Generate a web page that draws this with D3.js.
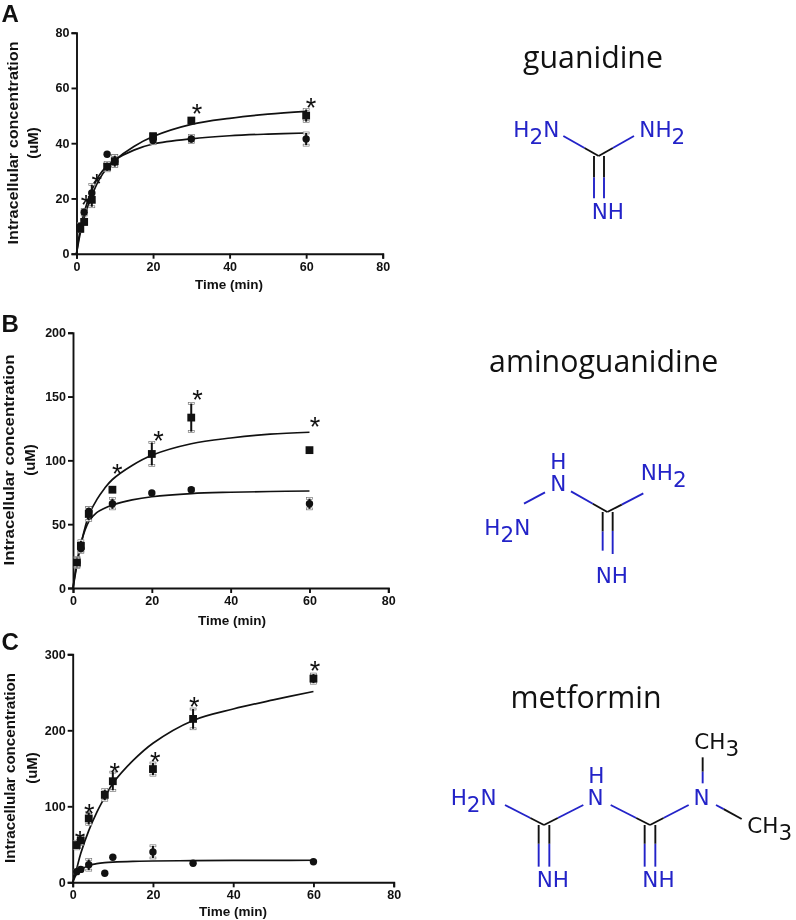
<!DOCTYPE html>
<html><head><meta charset="utf-8">
<script src="https://cdn.jsdelivr.net/npm/d3@7"></script>
<style>
html,body{margin:0;padding:0;background:#fff}
svg{display:block;filter:blur(0.35px)}
</style></head><body>
<svg id="c" width="796" height="920"></svg>
<script>
// ---- Data ----
const xTicks = [0, 20, 40, 60, 80];

const timesA = [1, 2, 4, 8, 10, 20, 30, 60];
const squaresA = [9, 11.5, 19.5, 31.5, 33.5, 42.5, 48.2, 50];
const squareErrA = [1, 1, 2.5, 1.5, 2, 1, 0.8, 2.2];
const circlesA = [10, 15, 22, 36, 33.5, 41, 41.5, 41.5];
const circleErrA = [1, 1, 3, 0, 2, 1.2, 1.3, 2.2];
const fitTimesA = [0, 1, 2, 4, 6, 8, 10, 15, 20, 30, 40, 50, 60];
const fitSquareA = [0, 7.5, 13, 21, 27, 31, 33.8, 38.8, 42.4, 46.8, 49, 50.5, 51.5];
const fitCircleA = [0, 9, 15, 23, 28.5, 31.8, 34, 37.5, 39.7, 41.6, 42.7, 43.3, 43.7];
const starsXA = [2.5, 5.3, 31.5, 61.3];
const starsYA = [19.8, 27.5, 52.7, 54.9];

const timesB = [1, 2, 4, 10, 20, 30, 60];
const squaresB = [20, 33, 58, 77, 105, 133.5, 108];
const squareErrB = [3, 4, 5, 0, 9, 11, 0];
const circlesB = [20, 31, 60, 66, 74.5, 77, 66];
const circleErrB = [4, 3, 3, 4, 0, 1, 4];
const fitTimesB = [0, 1, 2, 4, 6, 8, 10, 15, 20, 30, 40, 50, 60];
const fitSquareB = [0, 18, 34, 57, 69, 78, 85, 96, 104, 113, 117.5, 120.5, 122];
const fitCircleB = [0, 20, 35, 52, 59, 62.5, 65, 69, 71.5, 74, 75, 75.6, 76];
const starsXB = [11.2, 21.7, 31.6, 61.4];
const starsYB = [94, 120, 152, 131];

const timesC = [1, 2, 4, 8, 10, 20, 30, 60];
const squaresC = [49, 55, 84, 115, 133, 149, 215, 268];
const squareErrC = [5, 5, 8, 7, 12, 8, 13, 6];
const circlesC = [14, 17, 23, 12, 33, 40, 25, 27];
const circleErrC = [2, 2, 7, 0, 0, 8, 0, 0];
const fitTimesC = [0, 1, 2, 4, 6, 8, 10, 15, 20, 30, 40, 50, 60];
const fitSquareC = [0, 18, 38, 68, 92, 112, 130, 160, 183, 213, 228, 240, 251];
const fitCircleC = [0, 11, 16, 22, 24.5, 25.8, 26.5, 27.5, 28, 28.5, 28.8, 28.9, 29];
const starsXC = [1.8, 4.1, 10.5, 20.6, 30.3, 60.4];
const starsYC = [62, 98, 152, 166, 238, 286];

const panelLetters = ["A", "B", "C"];
const yTicksA = [0, 20, 40, 60, 80];
const yTicksB = [0, 50, 100, 150, 200];
const yTicksC = [0, 100, 200, 300];
const yLabel1 = "Intracellular concentration";
const yLabel2 = "(uM)";
const xLabel = "Time (min)";
const compoundNames = ["guanidine", "aminoguanidine", "metformin"];

// ---- Layout ----
const svg = d3.select("#c");
const SANS = "'Liberation Sans', Arial, sans-serif";
const panels = [
 {letter:panelLetters[0], ly:22, x0:76.5, x1:382.7, y0:253.7, y1:32.7, ymax:80, yt:yTicksA,
  t:timesA, s:squaresA, se:squareErrA, c:circlesA, ce:circleErrA, ft:fitTimesA, fs:fitSquareA, fc:fitCircleA, sx:starsXA, sy:starsYA,
  lab1x:17.5, lab2x:38, labY:143, labLen:203, tx:229, tBase:289},
 {letter:panelLetters[1], ly:332, x0:73, x1:388.3, y0:588, y1:332.7, ymax:200, yt:yTicksB,
  t:timesB, s:squaresB, se:squareErrB, c:circlesB, ce:circleErrB, ft:fitTimesB, fs:fitSquareB, fc:fitCircleB, sx:starsXB, sy:starsYB,
  lab1x:14, lab2x:35, labY:460, labLen:211, tx:232, tBase:625},
 {letter:panelLetters[2], ly:650, x0:72.7, x1:393.7, y0:882.3, y1:654.3, ymax:300, yt:yTicksC,
  t:timesC, s:squaresC, se:squareErrC, c:circlesC, ce:circleErrC, ft:fitTimesC, fs:fitSquareC, fc:fitCircleC, sx:starsXC, sy:starsYC,
  lab1x:15, lab2x:37, labY:768, labLen:190, tx:233, tBase:916}
];

panels.forEach(p => {
  const g = svg.append("g");
  const x = d3.scaleLinear().domain([0, 80]).range([p.x0, p.x1]);
  const y = d3.scaleLinear().domain([0, p.ymax]).range([p.y0, p.y1]);

  g.append("text").attr("x", 1.5).attr("y", p.ly).text(p.letter)
   .attr("font-family", SANS).attr("font-weight", 700).attr("font-size", 24).attr("fill", "#111");

  const ax = g.append("g").attr("transform", `translate(0,${p.y0})`)
    .call(d3.axisBottom(x).tickValues(xTicks).tickSize(5).tickPadding(3).tickFormat(d3.format("d")));
  const ay = g.append("g").attr("transform", `translate(${p.x0},0)`)
    .call(d3.axisLeft(y).tickValues(p.yt).tickSize(5).tickPadding(2).tickFormat(d3.format("d")));
  [ax, ay].forEach(a => {
    a.selectAll("path").attr("stroke", "#111").attr("stroke-width", 1.9);
    a.selectAll("line").attr("stroke", "#111").attr("stroke-width", 1.9);
    a.selectAll("text").attr("font-family", SANS).attr("font-weight", 700).attr("font-size", 12.5).attr("fill", "#111");
  });

  const labelAttrs = s => s.attr("font-family", SANS).attr("font-weight", 700).attr("fill", "#111").attr("text-anchor", "middle");
  g.append("text").call(labelAttrs).attr("font-size", 13.5).attr("x", p.tx).attr("y", p.tBase).text(xLabel);
  g.append("text").call(labelAttrs).attr("font-size", 15)
    .attr("transform", `translate(${p.lab1x},${p.labY}) rotate(-90)`)
    .attr("textLength", p.labLen).attr("lengthAdjust", "spacingAndGlyphs").text(yLabel1);
  g.append("text").call(labelAttrs).attr("font-size", 15)
    .attr("transform", `translate(${p.lab2x},${p.labY}) rotate(-90)`).text(yLabel2);

  // fit curves
  const line = d3.line().x(d => x(d[0])).y(d => y(d[1])).curve(d3.curveCatmullRom.alpha(0.5));
  [p.fs, p.fc].forEach(f => {
    g.append("path").attr("d", line(p.ft.map((t, i) => [t, f[i]])))
     .attr("fill", "none").attr("stroke", "#111").attr("stroke-width", 1.7);
  });

  // error bars
  const err = (vals, errs) => p.t.forEach((t, i) => {
    if (!errs[i]) return;
    const cx = x(t), hi = y(vals[i] + errs[i]), lo = y(vals[i] - errs[i]);
    [hi, lo].forEach(v => g.append("rect").attr("x", cx - 3).attr("y", v - 1).attr("width", 6).attr("height", 2)
      .attr("fill", "#fff").attr("stroke", "#666").attr("stroke-width", 0.6));
    g.append("line").attr("x1", cx).attr("x2", cx).attr("y1", hi).attr("y2", lo)
     .attr("stroke", "#111").attr("stroke-width", 2);
  });
  err(p.c, p.ce);
  err(p.s, p.se);

  // markers
  g.append("g").selectAll("circle").data(p.t.map((t, i) => [t, p.c[i]])).join("circle")
    .attr("cx", d => x(d[0])).attr("cy", d => y(d[1])).attr("r", 3.7).attr("fill", "#111");
  g.append("g").selectAll("rect").data(p.t.map((t, i) => [t, p.s[i]])).join("rect")
    .attr("x", d => x(d[0]) - 3.9).attr("y", d => y(d[1]) - 3.9).attr("width", 7.8).attr("height", 7.8).attr("fill", "#111");

  // significance stars
  g.append("g").selectAll("text").data(p.sx.map((v, i) => [v, p.sy[i]])).join("text")
    .attr("x", d => x(d[0])).attr("y", d => y(d[1]) + 15).attr("text-anchor", "middle")
    .attr("font-family", SANS).attr("font-size", 27).attr("fill", "#111").text("*");
});

// ---- Structures ----
const BLUE = "#2323c8", BLACK = "#111";
function bond(ox, oy, a, b, split) {
  // a -> b in zoomed-crop units; drawn blue from a to the split fraction, then black
  const P = q => [ox + q[0] / 3, oy + q[1] / 3];
  const A = P(a), B = P(b), M = [A[0] + (B[0] - A[0]) * split, A[1] + (B[1] - A[1]) * split];
  const seg = (u, v, col) => svg.append("line").attr("x1", u[0]).attr("y1", u[1]).attr("x2", v[0]).attr("y2", v[1])
    .attr("stroke", col).attr("stroke-width", 1.9);
  seg(A, M, BLUE); seg(M, B, BLACK);
}
function atom(ox, oy, x, base, parts, col, anchor) {
  const t = svg.append("text").attr("x", ox + x / 3).attr("y", oy + base / 3)
    .attr("font-family", "'DejaVu Sans', sans-serif").attr("font-size", 21.5)
    .attr("fill", col || BLUE).attr("text-anchor", anchor || "start");
  let sub = false;
  parts.forEach(s => {
    const isSub = /^[0-9]$/.test(s);
    const ts = t.append("tspan").text(s);
    if (isSub) ts.attr("dy", 7);
    else if (sub) ts.attr("dy", -7);
    sub = isSub;
  });
}
function stacked(ox, oy, xTop, baseTop, xBottom, baseBottom) {
  // "H" above "N" as a single label
  const t = svg.append("text").attr("font-family", "'DejaVu Sans', sans-serif").attr("font-size", 21.5)
    .attr("fill", BLUE).attr("text-anchor", "middle");
  t.append("tspan").attr("x", ox + xTop / 3).attr("y", oy + baseTop / 3).text("H");
  t.append("tspan").attr("x", ox + xBottom / 3).attr("y", oy + baseBottom / 3).text("N");
}
function title(cx, base, s) {
  svg.append("text").attr("x", cx).attr("y", base).attr("text-anchor", "middle")
    .attr("font-family", "'Open Sans', sans-serif").attr("font-size", 30.3).attr("fill", "#111").text(s);
}

// guanidine
(() => { const ox = 450, oy = 30;
  title(593, 68, compoundNames[0]);
  bond(ox, oy, [340,318], [446,378], 0.6);
  bond(ox, oy, [552,318], [446,378], 0.6);
  bond(ox, oy, [432,505], [432,378], 0.5);
  bond(ox, oy, [462,505], [462,378], 0.5);
  atom(ox, oy, 190, 320, ["H","2","N"]);
  atom(ox, oy, 568, 320, ["NH","2"]);
  atom(ox, oy, 425, 568, ["NH"]);
})();

// aminoguanidine
(() => { const ox = 450, oy = 340;
  title(603.7, 372, compoundNames[1]);
  bond(ox, oy, [363,454], [472,516], 0.6);
  bond(ox, oy, [580,460], [472,516], 0.6);
  bond(ox, oy, [285,457], [222,491], 1);
  bond(ox, oy, [458,632], [458,516], 0.5);
  bond(ox, oy, [488,642], [488,516], 0.55);
  stacked(ox, oy, 325, 388, 325, 452);
  atom(ox, oy, 572, 420, ["NH","2"]);
  atom(ox, oy, 103, 585, ["H","2","N"]);
  atom(ox, oy, 437, 728, ["NH"]);
})();

// metformin
(() => { const ox = 430, oy = 670;
  title(586, 708, compoundNames[2]);
  bond(ox, oy, [225,405], [342,465], 0.65);
  bond(ox, oy, [460,405], [342,465], 0.65);
  bond(ox, oy, [542,405], [660,465], 0.65);
  bond(ox, oy, [776,405], [660,465], 0.65);
  bond(ox, oy, [326,590], [326,465], 0.55);
  bond(ox, oy, [358,590], [358,465], 0.55);
  bond(ox, oy, [644,590], [644,465], 0.55);
  bond(ox, oy, [676,590], [676,465], 0.55);
  bond(ox, oy, [818,340], [818,262], 0.45);
  bond(ox, oy, [858,405], [935,447], 0.3);
  atom(ox, oy, 62, 404, ["H","2","N"]);
  stacked(ox, oy, 499, 340, 497, 404);
  atom(ox, oy, 815, 404, ["N"], BLUE, "middle");
  atom(ox, oy, 793, 238, ["CH","3"], BLACK);
  atom(ox, oy, 952, 488, ["CH","3"], BLACK);
  atom(ox, oy, 320, 652, ["NH"]);
  atom(ox, oy, 637, 652, ["NH"]);
})();
</script>
</body></html>
